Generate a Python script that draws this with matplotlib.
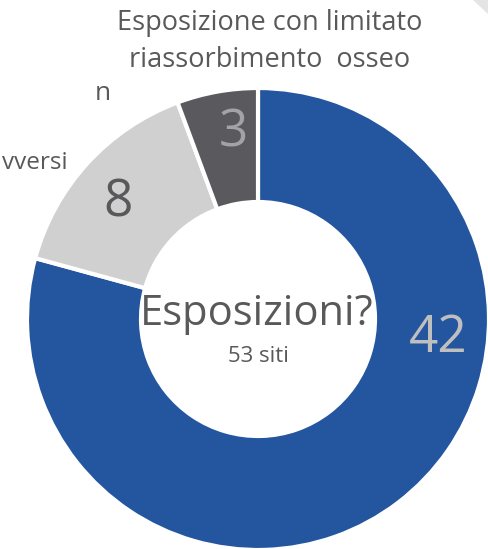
import matplotlib

matplotlib.use("Agg")
import matplotlib.pyplot as plt  # noqa: E402
from matplotlib.patches import Polygon  # noqa: E402

W, H = 488, 549

categories = ["Esposizione estesa", "Esposizione con eventi avversi", "Esposizione con limitato riassorbimento osseo"]
counts = [42, 8, 3]
colors = ["#2456A0", "#D0D0D0", "#5A5A5E"]
value_colors = ["#BFBFBF", "#59595B", "#A3A3A7"]
center_title = "Esposizioni?"
center_sub = f"{sum(counts)} siti"

plt.rcParams["font.family"] = ["Open Sans", "DejaVu Sans"]
TEXT = "#595959"

fig = plt.figure(figsize=(W / 100, H / 100), dpi=100)
ax = fig.add_axes([0, 0, 1, 1])

cx, cy = 258, H - 319
wedges, _ = ax.pie(
    counts,
    colors=colors,
    startangle=90,
    counterclock=False,
    radius=231,
    center=(cx, cy),
    frame=True,
    wedgeprops=dict(width=114, edgecolor="white", linewidth=3),
)

# value labels inside each slice
value_pos = [(438, 338), (118, 203), (233, 133)]
for (x, y), val, col in zip(value_pos, counts, value_colors):
    ax.text(x, H - y, str(val), color=col, fontsize=37, ha="center", va="center")

ax.text(cx - 1, H - 314, center_title, color=TEXT, fontsize=30, ha="center", va="center")
ax.text(cx, H - 357, center_sub, color=TEXT, fontsize=16, ha="center", va="center")

# category labels (left ones are cut off by the slide edge)
ax.text(270, H - 23, "Esposizione con limitato", color=TEXT, fontsize=19.5, ha="center", va="center")
ax.text(270, H - 60, "riassorbimento  osseo", color=TEXT, fontsize=19.5, ha="center", va="center")
ax.text(111, H - 94, "n", color=TEXT, fontsize=19, ha="right", va="center")
ax.text(68, H - 163, "vversi", color=TEXT, fontsize=17.5, ha="right", va="center")

ax.add_patch(Polygon([(473, H), (488, H), (488, H - 14)], closed=True, color="#E4E4E4", lw=0))

ax.set_xlim(0, W)
ax.set_ylim(0, H)
ax.set_aspect("equal")
ax.axis("off")

fig.savefig("out.png", dpi=100)
